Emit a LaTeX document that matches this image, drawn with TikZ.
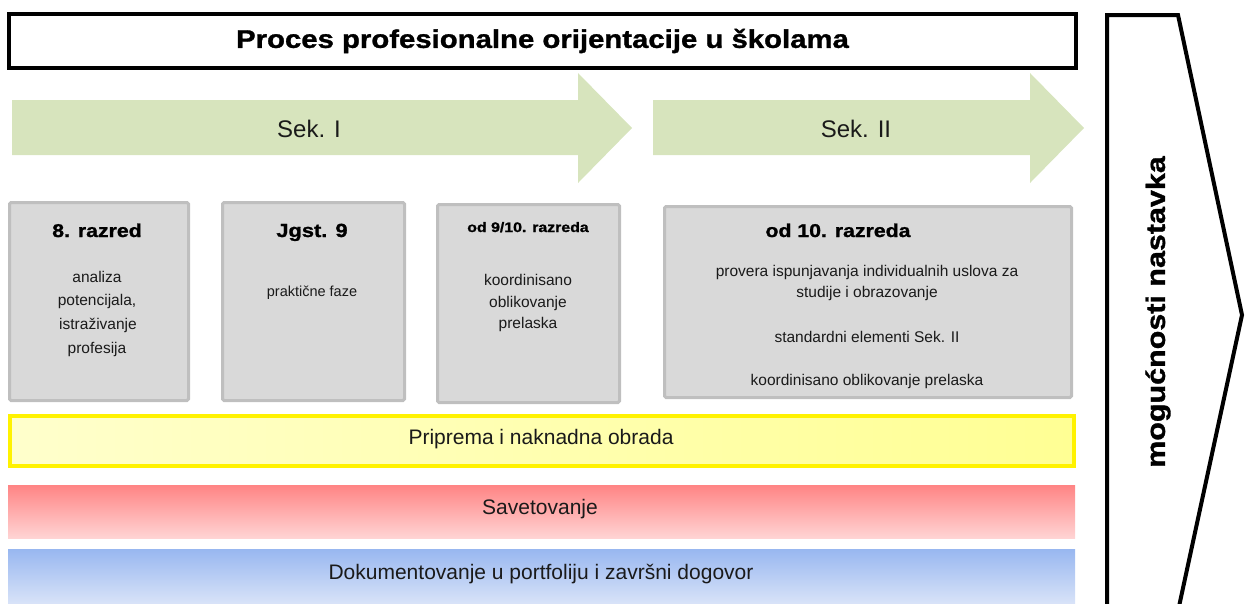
\documentclass[tikz,border=0pt]{standalone}
\usepackage{fontspec}
\setmainfont{Liberation Sans}
\newfontfamily\widebf[FakeStretch=1.15, FakeBold=1.2]{Liberation Sans Bold}

\definecolor{sekgreen}{HTML}{D7E4BD}
\definecolor{boxgray}{HTML}{D9D9D9}
\definecolor{boxrule}{HTML}{BFBFBF}
\definecolor{inktext}{HTML}{1A1A1A}

\tikzset{
  phase/.style={draw=boxrule, fill=boxgray, line width=3, rounded corners=1.5},
  phasehead/.style={font=\widebf\fontsize{18.5}{22}\selectfont, anchor=base, inner sep=0},
  phasetext/.style={font=\fontsize{15.5}{18}\selectfont, text=inktext, anchor=base, inner sep=0},
  band/.style={minimum width=1067, minimum height=53, inner sep=0},
  bandtext/.style={font=\fontsize{21}{25}\selectfont, text=inktext, anchor=base, inner sep=0},
}

\begin{document}
\begin{tikzpicture}[x=1pt, y=-1pt]

    \useasboundingbox (0,0) rectangle (1246,603);
    \clip (0,0) rectangle (1246,603);

    % title
    \node[draw, line width=4, minimum width=1067, minimum height=54, inner sep=0,
          font=\widebf\fontsize{25.5}{30}\selectfont] (title) at (542.5,41) {Proces profesionalne orijentacije u školama};

    % Sek. I and Sek. II
    \fill[sekgreen] (12,100) -- (578,100) -- (578,73) -- (632,128) -- (578,183) -- (578,155) -- (12,155) -- cycle;
    \node[font=\fontsize{24}{28}\selectfont, text=inktext, anchor=base] (sek1) at (309,137) {Sek. I};

    \fill[sekgreen] (653,100) -- (1030,100) -- (1030,73) -- (1084,128) -- (1030,183) -- (1030,155) -- (653,155) -- cycle;
    \node[font=\fontsize{24}{28}\selectfont, text=inktext, anchor=base] (sek2) at (856,137) {Sek. II};

    % grade boxes
    \node[phase, minimum width=179, minimum height=198] (grade8) at (99,301.5) {};
    \node[phasehead] (grade8h) at (97,237) {8. razred};
    \node[phasetext] (grade8a) at (97,282) {analiza};
    \node[phasetext] (grade8b) at (97,305) {potencijala,};
    \node[phasetext] (grade8c) at (98,329) {istraživanje};
    \node[phasetext] (grade8d) at (97,353) {profesija};

    \node[phase, minimum width=182, minimum height=198] (grade9) at (313.5,301.5) {};
    \node[phasehead, font=\widebf\fontsize{19}{22}\selectfont] (grade9h) at (312,237) {Jgst. 9};
    \node[phasetext, font=\fontsize{14.5}{18}\selectfont] (grade9a) at (312,296) {praktične faze};

    \node[phase, minimum width=182, minimum height=198] (grade910) at (528.5,303.5) {};
    \node[phasehead, font=\widebf\fontsize{13.8}{16}\selectfont] (grade910h) at (528,232) {od 9/10. razreda};
    \node[phasetext] (grade910a) at (528,285) {koordinisano};
    \node[phasetext] (grade910b) at (528,307) {oblikovanje};
    \node[phasetext] (grade910c) at (528,328) {prelaska};

    \node[phase, minimum width=407, minimum height=191] (grade10) at (868,302) {};
    \node[phasehead] (grade10h) at (838,237) {od 10. razreda};
    \node[phasetext] (grade10a) at (867,276) {provera ispunjavanja individualnih uslova za};
    \node[phasetext] (grade10b) at (867,297) {studije i obrazovanje};
    \node[phasetext] (grade10c) at (867,342) {standardni elementi Sek. II};
    \node[phasetext] (grade10d) at (867,385) {koordinisano oblikovanje prelaska};

    % bands
    \node[band, draw=yellow, line width=4, minimum width=1064, minimum height=50,
          left color=yellow!20, right color=yellow!42] (prep) at (542,441) {};
    \node[bandtext] (prept) at (541,444) {Priprema i naknadna obrada};

    \node[band, top color={rgb,255:red,255;green,132;blue,132}, bottom color={rgb,255:red,255;green,212;blue,212}] (advice) at (541.5,511.5) {};
    \node[bandtext] (advicet) at (540,514) {Savetovanje};

    \node[band, minimum height=61, top color={rgb,255:red,152;green,183;blue,240}, bottom color={rgb,255:red,224;green,232;blue,249}] (docs) at (541.5,579.5) {};
    \node[bandtext] (docst) at (541,579) {Dokumentovanje u portfoliju i završni dogovor};

    % continuation chevron
    \draw[line width=4] (1107,625) -- (1107,15) -- (1178,15) -- (1242,315) -- (1175,625);
    \node[rotate=90, font=\widebf\fontsize{26.5}{30}\selectfont] (cont) at (1158,312) {mogućnosti nastavka};

\end{tikzpicture}
\end{document}
